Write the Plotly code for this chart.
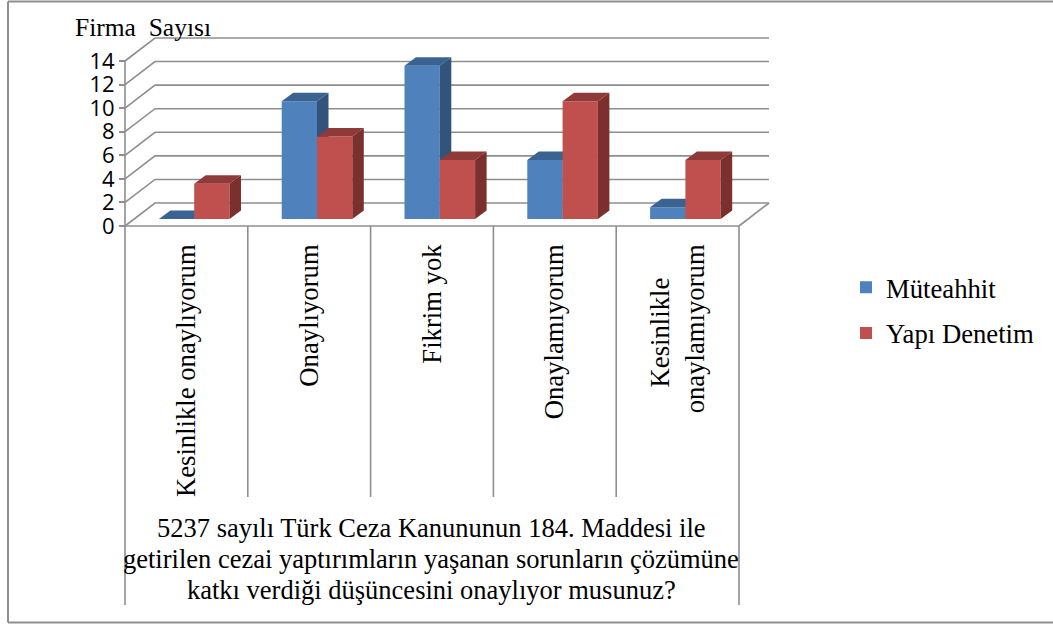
import plotly.graph_objects as go

NB = "\u00a0"
categories = ["Kesinlikle onaylıyorum", "Onaylıyorum", "Fikrim yok", "Onaylamıyorum",
              "Kesinlikle" + NB * 5 + "<br>onaylamıyorum"]
muteahhit = [0, 10, 13, 5, 1]
yapi_denetim = [3, 7, 5, 10, 5]
y_ticks = [0, 2, 4, 6, 8, 10, 12, 14]
title_lines = ["5237 sayılı Türk Ceza Kanununun 184. Maddesi ile",
               "getirilen cezai yaptırımların yaşanan sorunların çözümüne",
               "katkı verdiği düşüncesini onaylıyor musunuz?"]

W, H = 1053, 624
L, R, T, B = 125, 739, 61, 226
n = len(categories)
sx = (R - L) / n
sy = (B - T) / 14
GRID = "#8e8e8e"
SERIF = "Liberation Serif"
wall_dx, wall_dy = 30 / sx, 23 / sy
depth_dx, depth_dy = 11.5 / sx, 8.5 / sy
bar_w = 35.3 / sx
base_y = 7 / sy
offs = {"b": -27.5 / sx, "r": (-27.5 + 35.3) / sx}
x0, x1 = -0.5, n - 0.5

def dx(p): return (p - L) / sx - 0.5
def dy(p): return (B - p) / sy

xr = [dx(0), dx(W)]
yr = [dy(H), dy(0)]

fig = go.Figure()

# walls, floor, axis lines and separators
gx, gy = [], []
for t in y_ticks:
    gx += [x0, x0 + wall_dx, x1 + wall_dx, None]
    gy += [t, t + wall_dy, t + wall_dy, None]
gx += [x1, x1 + wall_dx, None, x0, x1, None, x0, x0, None]
gy += [0, wall_dy, None, 0, 0, None, 0, 14, None]
for i in range(1, n):
    gx += [x0 + i, x0 + i, None]
    gy += [0, dy(497), None]
for xs in (x0, x1):
    gx += [xs, xs, None]
    gy += [0, dy(605), None]
fig.add_trace(go.Scatter(x=gx, y=gy, mode="lines", line=dict(color=GRID, width=1.6),
                         cliponaxis=False, showlegend=False, hoverinfo="skip"))

def series(name, vals, off, front, top, side, xa, ya):
    for i, v in enumerate(vals):
        l = i + off
        r = l + bar_w
        b = base_y
        t = base_y + v
        fig.add_trace(go.Scatter(
            x=[l, r, r + depth_dx, l + depth_dx, l], y=[t, t, t + depth_dy, t + depth_dy, t],
            mode="lines", fill="toself", fillcolor=top, line=dict(width=0),
            showlegend=False, hoverinfo="skip", xaxis=xa, yaxis=ya))
        fig.add_trace(go.Scatter(
            x=[r, r + depth_dx, r + depth_dx, r, r], y=[b, b + depth_dy, t + depth_dy, t, b],
            mode="lines", fill="toself", fillcolor=side, line=dict(width=0),
            showlegend=False, hoverinfo="skip", xaxis=xa, yaxis=ya))
    fig.add_trace(go.Bar(name=name, x=list(range(n)), y=vals, base=[base_y] * n,
                         width=[bar_w] * n, offset=[off] * n, marker=dict(color=front, line=dict(width=0)),
                         xaxis=xa, yaxis=ya, legendgroup=name))

series("Müteahhit", muteahhit, offs["b"], "#4F81BD", "#3B6391", "#31537C", "x2", "y2")
series("Yapı Denetim", yapi_denetim, offs["r"], "#C0504D", "#8E3A38", "#7B302E", "x3", "y3")

ann = [dict(text="Firma" + NB + " Sayısı", x=dx(73), y=dy(27), xref="x", yref="y", xanchor="left", yanchor="middle",
            showarrow=False, font=dict(family=SERIF, size=25.5, color="black"))]
for line, yp in zip(title_lines, (528, 559, 590)):
    ann.append(dict(text=line, x=dx(431), y=dy(yp), xref="x", yref="y", xanchor="center", yanchor="middle",
                    showarrow=False, font=dict(family=SERIF, size=26.5, color="black")))

hidden = dict(visible=False, fixedrange=True)
fig.update_layout(
    width=W, height=H, autosize=False, plot_bgcolor="white", paper_bgcolor="white",
    margin=dict(l=0, r=0, t=0, b=0, pad=0),
    barmode="overlay", annotations=ann,
    xaxis=dict(range=xr, tickvals=list(range(n)), ticktext=categories, tickangle=-90,
               showgrid=False, zeroline=False, showline=False, ticks="",
               anchor="free", position=(H - B) / H, ticklabelstandoff=12,
               tickfont=dict(family=SERIF, size=26.7, color="black")),
    yaxis=dict(range=yr, tickvals=y_ticks, showgrid=False, zeroline=False, showline=False,
               anchor="free", position=L / W,
               ticks="outside", ticklen=6, tickcolor=GRID, tickwidth=1.6,
               tickfont=dict(family="Open Sans", size=22, color="black")),
    xaxis2=dict(range=xr, overlaying="x", **hidden),
    yaxis2=dict(range=yr, overlaying="y", **hidden),
    xaxis3=dict(range=xr, overlaying="x", **hidden),
    yaxis3=dict(range=yr, overlaying="y", **hidden),
    legend=dict(x=846 / W, y=1 - 263.5 / H, xanchor="left", yanchor="top",
                tracegroupgap=8, bgcolor="rgba(0,0,0,0)",
                font=dict(family=SERIF, size=26.7, color="black")),
    shapes=[dict(type="line", xref="paper", yref="paper", x0=8 / W, x1=8 / W, y0=1 - 1.5 / H, y1=1 - 622.5 / H,
                 line=dict(color=GRID, width=2), layer="below"),
            dict(type="line", xref="paper", yref="paper", x0=8 / W, x1=1, y0=1 - 1.5 / H, y1=1 - 1.5 / H,
                 line=dict(color=GRID, width=2), layer="below"),
            dict(type="line", xref="paper", yref="paper", x0=8 / W, x1=1, y0=1 - 622.5 / H, y1=1 - 622.5 / H,
                 line=dict(color=GRID, width=2), layer="below")],
)
fig.write_html("out.html", post_script="document.body.style.margin='0';", config={"displayModeBar": False})
